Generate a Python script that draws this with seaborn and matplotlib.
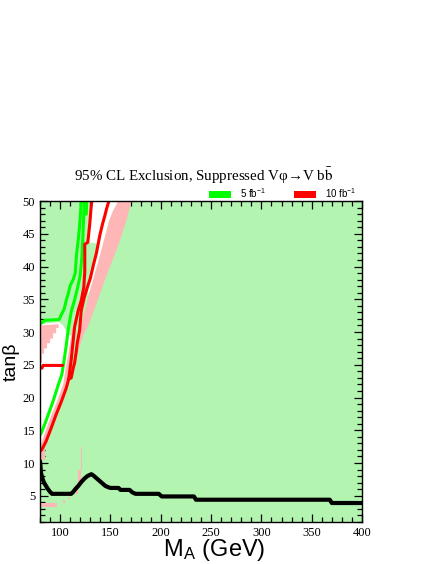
import matplotlib
matplotlib.use("Agg")
import matplotlib.pyplot as plt
from matplotlib.patches import Patch
from matplotlib.ticker import MultipleLocator
import seaborn as sns

# Contour lines, (M_A [GeV], tan beta)
green_outer_x = [80, 85, 99, 101, 104, 106, 108, 110, 113, 115, 116, 117, 118, 119, 120, 121]
green_outer_y = [31.2, 31.8, 31.9, 32.6, 33.5, 34.8, 35.8, 37.1, 38.0, 39.0, 41.2, 42.8, 44.1, 45.6, 47.6, 50]

green_inner_x = [80, 81, 84.4, 89.4, 92.7, 96, 99.4, 101.7, 104, 106, 108, 111, 114.4, 117.7, 120, 121.5, 122.5, 123, 123.5, 124]
green_inner_y = [14.3, 14.5, 15.8, 17.9, 19.3, 20.9, 22.5, 23.5, 25.7, 27.9, 30.3, 33.1, 34.9, 37.0, 38.7, 41.2, 44.1, 46.1, 48.0, 50]

green_blob_x = [126, 126.3]
green_blob_y = [48.0, 49.8]

red_low_x = [80, 82, 86, 91, 96, 101, 106, 108.5]
red_low_y = [11.8, 12.1, 13.3, 15.3, 17.4, 19.3, 21.4, 22.8]

red_left_x = [108.5, 111, 112.7, 114.4, 118, 121, 123.5, 124.5, 124.5, 127.5, 128.5, 129.5, 130.5, 131.5]
red_left_y = [22.8, 25.7, 28.3, 30.8, 33.3, 34.8, 36.8, 39.2, 43.4, 43.7, 45.1, 46.6, 48.5, 50]

red_right_x = [108.5, 111, 113, 114.4, 116, 117, 119.4, 121, 124, 127, 130, 133, 136, 139.5, 142, 144.5, 146.5, 148.5]
red_right_y = [22.8, 23.0, 24.5, 25.3, 27.0, 28.3, 30.3, 33.3, 35.3, 36.8, 38.2, 40.2, 42.0, 44.8, 46.4, 47.8, 49.0, 50]

red_flat_x = [80, 82, 83, 102.5]
red_flat_y = [24.5, 24.5, 24.9, 24.9]

black_x = [80, 80.5, 81, 82.5, 84, 86, 88, 90, 92, 111, 113, 115, 118, 121, 124, 127, 131, 133, 136,
           139, 142, 145, 148, 150, 158, 160, 169, 172, 175, 198, 201, 233, 235, 368, 370, 400]
black_y = [10.3, 9.5, 8.5, 7.6, 7.0, 6.5, 6.0, 5.6, 5.3, 5.3, 5.6, 6.0, 6.5, 7.1, 7.6, 8.0, 8.3, 8.1, 7.7,
           7.3, 6.9, 6.5, 6.3, 6.2, 6.2, 5.9, 5.9, 5.5, 5.3, 5.3, 4.9, 4.9, 4.4, 4.4, 3.9, 3.9]

# Not-excluded (white) areas
white_low = [(80, 11.8), (80, 31.2), (99, 31.5), (103, 31.0), (107, 29.8), (110, 29.5), (113, 29.5),
             (112.7, 28.3), (111, 25.7), (108.5, 22.8), (106, 21.4), (101, 19.3), (96, 17.4),
             (91, 15.3), (86, 13.3), (82, 12.1)]
white_top = [(127.5, 43.7), (128.5, 45.1), (129.5, 46.6), (130.5, 48.5), (131.5, 50), (158, 50),
             (153, 48.6), (149, 47.1), (144, 44.2), (139, 41.3), (134, 38.6), (130, 36.5), (127, 35.5),
             (130, 38.2), (133, 40.2), (136, 42.0), (137, 43.5)]

# Pink areas
pink_corner = [(80, 25.3), (80, 31.0), (98.5, 31.2), (98.5, 30.6), (96, 30.6), (96, 29.8), (93, 29.8),
               (93, 29.0), (90, 29.0), (90, 28.3), (87, 28.3), (87, 27.5), (84, 27.5), (84, 26.7),
               (82, 26.7), (82, 25.3)]
pink_strip = [(82, 12.2), (86, 13.5), (91, 15.5), (96, 17.6), (101, 19.5), (106, 21.6), (108.5, 23),
              (111, 25.7), (112.7, 28.3), (114.4, 30.8), (112, 30.5), (110, 28.5), (108, 26.5),
              (105.5, 24.5), (103, 22.0), (99, 20.3), (95, 18.7), (90, 16.8), (85, 14.7), (82, 13.3)]
pink_band = [(117, 26.5), (117, 27.5), (121, 31), (125, 33.5), (130, 36.5), (134, 38.6), (139, 41.3),
             (144, 44.2), (149, 47.1), (153, 48.6), (158, 50), (171, 50), (166, 47.1), (160, 44.2),
             (153, 41.3), (146, 38.6), (140, 36), (134, 33.5), (128, 31), (123, 29.5), (119, 27.5)]
pink_boxes = [(120.3, 8.9, 1.2, 3.5), (118, 6.9, 3, 2.0), (116, 5.3, 1.5, 0.9), (80, 3.3, 17, 0.6),
              (103, 3.9, 2, 0.4), (108, 4.5, 2, 0.3), (80, 10.5, 4.5, 2.5)]

light_green = "#b3f5b0"
pink = "#ffb6b6"

sns.set_style("ticks")
plt.rcParams["font.family"] = ["Liberation Sans", "DejaVu Sans"]
plt.rcParams["mathtext.fontset"] = "stix"
plt.rcParams["text.color"] = "black"
plt.rcParams["axes.labelcolor"] = "black"
plt.rcParams["xtick.color"] = "black"
plt.rcParams["ytick.color"] = "black"

fig = plt.figure(figsize=(4.36, 5.64), dpi=100)
ax = fig.add_axes([40 / 436, 1 - 522 / 564, 322 / 436, 321 / 564])
ax.set_facecolor(light_green)

for poly, col in [(white_low, "white"), (white_top, "white"),
                  (pink_corner, pink), (pink_strip, pink), (pink_band, pink)]:
    ax.fill([p[0] for p in poly], [p[1] for p in poly], color=col, lw=0, zorder=1)
for x0, y0, w, h in pink_boxes:
    ax.fill([x0, x0 + w, x0 + w, x0], [y0, y0, y0 + h, y0 + h], color=pink, lw=0, zorder=1)

lines = [
    (green_outer_x, green_outer_y, "#00ff00", 2.2),
    (green_inner_x, green_inner_y, "#00ff00", 2.2),
    (green_blob_x, green_blob_y, "#00ff00", 2.2),
    (red_low_x, red_low_y, "#ff0000", 2.2),
    (red_left_x, red_left_y, "#ff0000", 2.2),
    (red_right_x, red_right_y, "#ff0000", 2.2),
    (red_flat_x, red_flat_y, "#ff0000", 2.2),
    (black_x, black_y, "black", 3.0),
]
for xs, ys, col, lw in lines:
    sns.lineplot(x=xs, y=ys, sort=False, estimator=None, color=col, linewidth=lw, ax=ax, zorder=3)

ax.set_xlim(80, 400)
ax.set_ylim(1, 50)
ax.xaxis.set_major_locator(MultipleLocator(50))
ax.xaxis.set_minor_locator(MultipleLocator(10))
ax.yaxis.set_major_locator(MultipleLocator(5))
ax.yaxis.set_minor_locator(MultipleLocator(1))
ax.tick_params(which="both", direction="in", top=True, right=True, width=0.9,
               color="black", labelcolor="black")
ax.tick_params(which="major", length=6)
ax.tick_params(which="minor", length=3.5)
for lab in ax.get_xticklabels() + ax.get_yticklabels():
    lab.set_family("Liberation Serif")
    lab.set_fontsize(9)
for sp in ax.spines.values():
    sp.set_linewidth(1.0)
    sp.set_color("black")
    sp.set_zorder(5)

ax.set_xlabel("M$_\\mathregular{A}$ (GeV)", fontsize=17, color="black")
ax.xaxis.set_label_coords(0.54, -0.048)
ax.set_ylabel("tan\u03b2", fontsize=14, color="black")
ax.yaxis.set_label_coords(-0.062, 0.5)

fig.text(0.466, 1 - 176 / 564, "95% CL Exclusion, Suppressed V\u03c6\u2192V b$\\bar{\\mathrm{b}}$",
         family="Liberation Serif", fontsize=10.8, ha="center", va="center", color="black")

handles = [Patch(facecolor="#00ff00", edgecolor="none"), Patch(facecolor="#ff0000", edgecolor="none")]
fig.legend(handles, ["5 fb$^{\\mathregular{-1}}$", "10 fb$^{\\mathregular{-1}}$"], ncol=2,
           loc="center", bbox_to_anchor=(0.648, 1 - 193 / 564), frameon=False, fontsize=7,
           handlelength=2.3, handleheight=0.75, handletextpad=0.9, columnspacing=2.9,
           borderpad=0, borderaxespad=0, labelcolor="black")

fig.savefig("out.png", dpi=100)
